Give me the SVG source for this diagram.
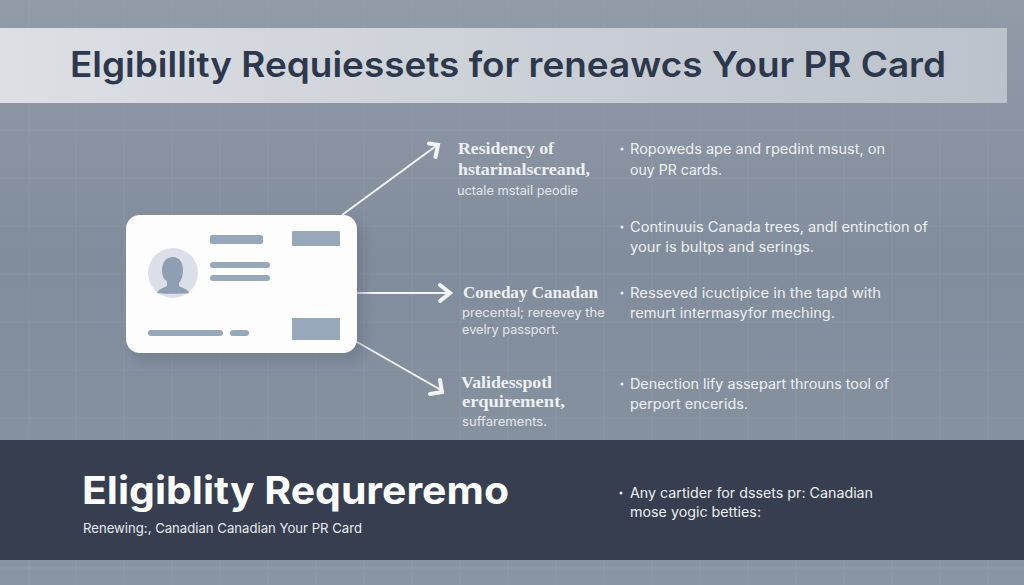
<svg xmlns="http://www.w3.org/2000/svg" width="1024" height="585" viewBox="0 0 1024 585">
<style>
.grid{stroke:#a9b2bd;stroke-width:1;opacity:.22;fill:none}
.h{font-family:"Liberation Serif",serif;font-weight:700;font-size:16px;fill:#eef1f4}
.s{font-family:Inter,"Liberation Sans",sans-serif;font-size:12.5px;fill:#e3e7ec}
.b{font-family:Inter,"Liberation Sans",sans-serif;font-size:14px;fill:#eef1f4}
.bar{fill:#97a8bb}
.ln{stroke:#f2f4f6;stroke-width:2;fill:none}
.hd{stroke:#f2f4f6;stroke-width:4;fill:none;stroke-linecap:round;stroke-linejoin:miter}
</style>
<defs>
<linearGradient id="bg" x1="0" y1="0" x2="0" y2="1"><stop offset="0" stop-color="#929ba8"/><stop offset=".45" stop-color="#818c9c"/><stop offset="1" stop-color="#8a95a3"/></linearGradient>
<linearGradient id="hdr" x1="0" y1="0" x2="1" y2="0"><stop offset="0" stop-color="#dcdfe4"/><stop offset="1" stop-color="#bcc2cb"/></linearGradient>
<filter id="sh" x="-15%" y="-15%" width="130%" height="130%"><feGaussianBlur stdDeviation="6"/></filter>
</defs>
<rect width="1024" height="585" fill="url(#bg)"/>
<path class="grid" d="M29 0V585M76 0V585M124 0V585M172 0V585M220 0V585M268 0V585M316 0V585M364 0V585M412 0V585M460 0V585M508 0V585M556 0V585M604 0V585M652 0V585M700 0V585M748 0V585M796 0V585M844 0V585M892 0V585M940 0V585M988 0V585M0 130H1024M0 178H1024M0 226H1024M0 274H1024M0 322H1024M0 370H1024M0 418H1024M0 568H1024"/>
<g id="header">
<rect x="0" y="28" width="1007" height="75" fill="url(#hdr)"/>
<text x="70" y="77" font-family="Inter, Liberation Sans, sans-serif" font-weight="600" font-size="35" fill="#2e384d" textLength="876" lengthAdjust="spacingAndGlyphs">Elgibillity Requiessets for reneawcs Your PR Card</text>
</g>
<g id="connectors">
<path class="ln" d="M342 215L436 146"/><path class="hd" d="M429 143.500L438 145L435.500 157"/>
<path class="ln" d="M357 293H449"/><path class="hd" d="M440 285L450 293L440 301"/>
<path class="ln" d="M357 342L441 390"/><path class="hd" d="M440 380L442 392L430 394"/>
</g>
<g id="card">
<rect x="132" y="221" width="233" height="140" rx="14" fill="#5f6b7c" opacity=".4" filter="url(#sh)"/>
<rect x="126" y="215" width="231" height="138" rx="14" fill="#fdfdfe"/>
<circle cx="173" cy="273" r="25" fill="#dbe0e8"/>
<path fill="#8f9fb3" d="M157 293C158 289 164 288 167 286L167 281C164 280 162 276 162 271C162 261 167 257 173 257C179 257 183 262 183 270C183 276 181 281 179 283L179 286C182 288 188 289 189 293C186 294 160 294 157 293Z"/>
<rect class="bar" x="210" y="235" width="53" height="9" rx="2"/>
<rect class="bar" x="210" y="262" width="60" height="6" rx="3"/>
<rect class="bar" x="210" y="275" width="60" height="6" rx="3"/>
<rect class="bar" x="292" y="231" width="48" height="15" rx="1"/>
<rect class="bar" x="292" y="318" width="48" height="22" rx="1"/>
<rect class="bar" x="148" y="330" width="75" height="6" rx="3"/>
<rect class="bar" x="230" y="330" width="19" height="6" rx="3"/>
</g>
<g id="item-residency">
<text class="h" x="458" y="154" textLength="96" lengthAdjust="spacingAndGlyphs">Residency of</text>
<text class="h" x="458" y="175" textLength="132" lengthAdjust="spacingAndGlyphs">hstarinalscreand,</text>
<text class="s" x="457" y="195" textLength="121" lengthAdjust="spacingAndGlyphs">uctale mstail peodie</text>
</g>
<g id="item-canadian">
<text class="h" x="463" y="298" textLength="135" lengthAdjust="spacingAndGlyphs">Coneday Canadan</text>
<text class="s" x="462" y="317" textLength="143" lengthAdjust="spacingAndGlyphs">precental; rereevey the</text>
<text class="s" x="462" y="334" textLength="97" lengthAdjust="spacingAndGlyphs">evelry passport.</text>
</g>
<g id="item-passport">
<text class="h" x="461" y="388" textLength="91" lengthAdjust="spacingAndGlyphs">Validesspotl</text>
<text class="h" x="462" y="407" textLength="103" lengthAdjust="spacingAndGlyphs">erquirement,</text>
<text class="s" x="462" y="426" textLength="85" lengthAdjust="spacingAndGlyphs">suffarements.</text>
</g>
<g id="bullets">
<circle cx="622" cy="149" r="1.500" fill="#eef1f4"/>
<text class="b" x="630" y="154" textLength="255" lengthAdjust="spacingAndGlyphs">Ropoweds ape and rpedint msust, on</text>
<text class="b" x="630" y="175" textLength="92" lengthAdjust="spacingAndGlyphs">ouy PR cards.</text>
<circle cx="622" cy="227" r="1.500" fill="#eef1f4"/>
<text class="b" x="630" y="232" textLength="298" lengthAdjust="spacingAndGlyphs">Continuuis Canada trees, andl entinction of</text>
<text class="b" x="630" y="252" textLength="184" lengthAdjust="spacingAndGlyphs">your is bultps and serings.</text>
<circle cx="622" cy="293" r="1.500" fill="#eef1f4"/>
<text class="b" x="630" y="298" textLength="251" lengthAdjust="spacingAndGlyphs">Resseved icuctipice in the tapd with</text>
<text class="b" x="630" y="318" textLength="205" lengthAdjust="spacingAndGlyphs">remurt intermasyfor meching.</text>
<circle cx="622" cy="384" r="1.500" fill="#eef1f4"/>
<text class="b" x="630" y="389" textLength="259" lengthAdjust="spacingAndGlyphs">Denection lify assepart throuns tool of</text>
<text class="b" x="630" y="409" textLength="118" lengthAdjust="spacingAndGlyphs">perport encerids.</text>
</g>
<g id="footer">
<rect x="0" y="440" width="1024" height="120" fill="#363e50"/>
<text x="82" y="504" font-family="Inter, Liberation Sans, sans-serif" font-weight="700" font-size="38" fill="#fbfcfd" textLength="427" lengthAdjust="spacingAndGlyphs">Eligiblity Requreremo</text>
<text x="83" y="533" font-family="Inter, Liberation Sans, sans-serif" font-size="13.500" fill="#e8ebef" textLength="279" lengthAdjust="spacingAndGlyphs">Renewing:, Canadian Canadian Your PR Card</text>
<circle cx="621" cy="493" r="1.500" fill="#eef1f4"/>
<text class="b" x="630" y="498" textLength="243" lengthAdjust="spacingAndGlyphs">Any cartider for dssets pr: Canadian</text>
<text class="b" x="630" y="517" textLength="131" lengthAdjust="spacingAndGlyphs">mose yogic betties:</text>
</g>
</svg>
